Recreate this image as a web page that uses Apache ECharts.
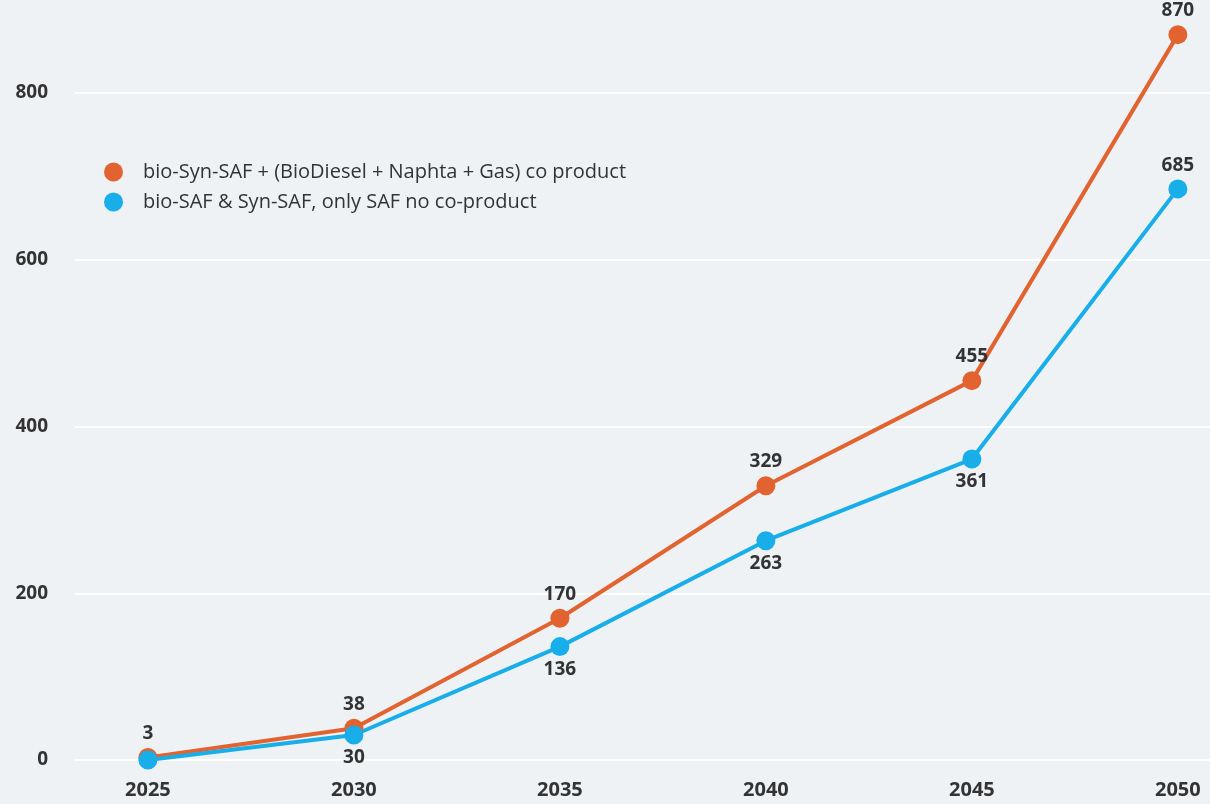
<!DOCTYPE html>
<html lang="en">
<head>
    <meta charset="UTF-8">
    <title>SAF production</title>
    <script src="https://cdn.jsdelivr.net/npm/echarts@6/dist/echarts.min.js"></script>
</head>
<body style="margin: 0; background: #eef2f5">
    <div id="chart" style="width: 1210px; height: 804px;"></div>
    <script>
        // data
        const years = [2025, 2030, 2035, 2040, 2045, 2050];
        const coProduct = [3, 38, 170, 329, 455, 870];
        const onlySaf = [0, 30, 136, 263, 361, 685];
        const seriesNames = [
            'bio-Syn-SAF + (BioDiesel + Naphta + Gas) co product',
            'bio-SAF & Syn-SAF, only SAF no co-product'
        ];
        const yTicks = [0, 200, 400, 600, 800];

        const orange = '#e2632f';
        const blue = '#17aeea';

        const chart = echarts.init(document.getElementById('chart'));

        const toPairs = vals => years.map((y, i) => [y, vals[i]]);

        const labelStyle = {
            show: true,
            fontFamily: 'Open Sans',
            fontWeight: 'bold',
            fontSize: 19,
            color: '#333'
        };

        chart.setOption({
            animation: false,
            backgroundColor: '#eef2f5',
            textStyle: { fontFamily: 'Open Sans' },
            grid: { left: 75, right: 0, top: 93, bottom: 44 },
            legend: {
                orient: 'vertical',
                left: 99,
                top: 157,
                icon: 'circle',
                itemWidth: 19,
                itemHeight: 19,
                itemGap: 10,
                textStyle: { fontSize: 20, color: '#333', padding: [0, 0, 0, 15] },
                data: seriesNames
            },
            xAxis: {
                type: 'value',
                min: 2023.23,
                max: 2050.78,
                axisLine: { show: false },
                axisTick: { show: false },
                splitLine: { show: false },
                axisLabel: {
                    customValues: years,
                    margin: 20,
                    fontSize: 20,
                    fontWeight: 'bold',
                    color: '#333',
                    formatter: v => String(v)
                }
            },
            yAxis: {
                type: 'value',
                min: 0,
                max: 800,
                interval: 200,
                axisLine: { show: false },
                axisTick: { show: false },
                splitLine: { lineStyle: { color: '#ffffff', width: 2 } },
                axisLabel: {
                    customValues: yTicks,
                    margin: 27,
                    fontSize: 19,
                    fontWeight: 'bold',
                    color: '#333'
                }
            },
            series: [
                {
                    name: seriesNames[0],
                    type: 'line',
                    clip: false,
                    data: toPairs(coProduct),
                    symbol: 'circle',
                    symbolSize: 19,
                    color: orange,
                    lineStyle: { width: 4, color: orange },
                    label: Object.assign({ position: 'top', distance: 5 }, labelStyle)
                },
                {
                    name: seriesNames[1],
                    type: 'line',
                    clip: false,
                    data: toPairs(onlySaf).map((d, i) => i === years.length - 1
                        ? { value: d, label: { position: 'top' } }
                        : d),
                    symbol: 'circle',
                    symbolSize: 19,
                    color: blue,
                    lineStyle: { width: 4, color: blue },
                    label: Object.assign({
                        position: 'bottom',
                        distance: 4,
                        formatter: p => p.dataIndex === 0 ? '' : String(p.value[1])
                    }, labelStyle)
                }
            ]
        });
    </script>
</body>
</html>
